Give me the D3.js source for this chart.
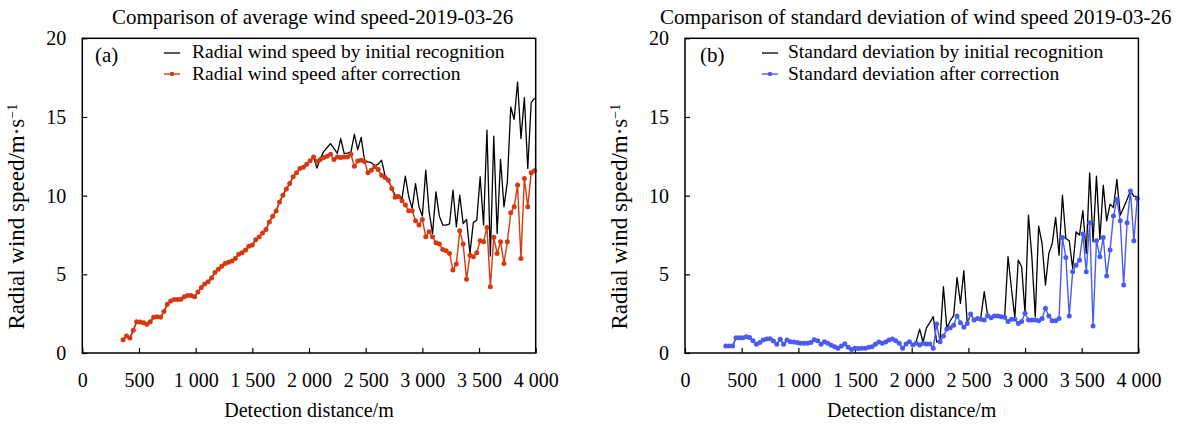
<!DOCTYPE html>
<html>
<head>
<meta charset="utf-8">
<script src="https://cdn.jsdelivr.net/npm/d3@7"></script>
<style>
  html, body { margin: 0; padding: 0; background: #fff; }
  svg { display: block; }
  text { font-family: "Liberation Serif", "Times New Roman", serif; fill: #000; }
</style>
</head>
<body>
<script>
// ---------------- data ----------------
const distance = [360,390,420,450,480,510,540,570,600,630,660,690,720,750,780,810,840,870,900,930,
  960,990,1020,1050,1080,1110,1140,1170,1200,1230,1260,1290,1320,1350,1380,1410,1440,1470,1500,1530,
  1560,1590,1620,1650,1680,1710,1740,1770,1800,1830,1860,1890,1920,1950,1980,2010,2040,2070,2100,2130,
  2160,2190,2220,2250,2280,2310,2340,2370,2400,2430,2460,2490,2520,2550,2580,2610,2640,2670,2700,2730,
  2760,2790,2820,2850,2880,2910,2940,2970,3000,3030,3060,3090,3120,3150,3180,3210,3240,3270,3300,3330,
  3360,3390,3420,3450,3480,3510,3540,3570,3600,3630,3660,3690,3720,3750,3780,3810,3840,3870,3900,3930,
  3960,3990];

const speedCorrected = [0.85,1.08,0.95,1.45,1.98,1.97,1.92,1.83,1.98,2.27,
  2.31,2.27,2.63,3.10,3.31,3.40,3.40,3.42,3.58,3.66,
  3.66,3.58,3.87,4.17,4.38,4.53,4.76,5.12,5.33,5.52,
  5.69,5.77,5.84,6.01,6.28,6.37,6.54,6.79,6.86,7.20,
  7.37,7.63,7.85,8.33,8.69,9.03,9.60,10.03,10.43,10.77,
  11.20,11.45,11.72,11.80,12.00,12.22,12.46,
  12.17,12.30,12.42,12.50,12.63,12.30,12.46,12.42,12.46,12.46,
  12.63,11.87,12.20,12.25,12.17,11.45,11.62,11.83,11.66,11.30,
  11.15,10.98,10.46,9.90,9.93,9.67,9.40,9.04,9.04,8.40,
  8.13,8.49,7.39,7.70,7.39,7.00,6.92,6.58,6.50,6.33,
  5.27,5.65,7.77,6.92,4.68,6.22,6.11,6.37,7.13,7.07,
  7.98,4.21,7.35,6.33,7.07,5.69,7.07,8.91,9.29,10.67,
  6.01,11.09,9.29,11.45,11.58];

const speedInitial = [0.85,1.08,0.95,1.45,1.98,1.97,1.92,1.83,1.98,2.27,
  2.31,2.27,2.63,3.10,3.31,3.40,3.40,3.42,3.58,3.66,
  3.66,3.58,3.87,4.17,4.38,4.53,4.76,5.12,5.33,5.52,
  5.69,5.77,5.84,6.01,6.28,6.37,6.54,6.79,6.86,7.20,
  7.37,7.63,7.85,8.33,8.69,9.03,9.60,10.03,10.43,10.77,
  11.20,11.45,11.72,11.80,12.00,12.22,12.46,
  11.75,12.36,12.80,13.06,13.31,13.00,12.68,13.63,12.68,12.70,
  12.78,13.90,12.93,13.70,12.25,12.15,12.10,11.90,12.00,12.25,
  11.30,11.00,10.50,10.03,10.03,9.80,11.24,9.93,9.19,10.77,
  9.30,8.70,11.62,8.97,7.60,10.24,8.70,8.13,8.13,8.20,
  10.35,8.02,10.03,8.23,8.49,6.33,8.30,8.44,11.20,8.13,
  14.16,6.16,13.78,7.60,12.30,9.29,10.88,15.64,14.84,17.22,
  13.63,16.23,11.73,15.89,16.20];

const sdCorrected = [0.44,0.44,0.44,0.97,0.97,0.97,1.04,0.99,0.78,0.55,
  0.66,0.83,0.89,0.91,0.76,0.55,0.87,0.55,0.83,0.72,
  0.70,0.66,0.62,0.62,0.62,0.66,0.85,0.78,0.55,0.72,
  0.62,0.49,0.40,0.30,0.44,0.59,0.36,0.23,0.30,0.28,
  0.30,0.30,0.36,0.40,0.55,0.70,0.62,0.70,0.83,0.89,
  0.78,0.62,0.30,0.57,0.72,0.51,
  0.62,0.51,0.62,0.57,0.57,0.30,
  1.84,0.72,1.08,1.52,1.61,1.76,2.35,1.93,1.63,1.88,
  2.48,2.10,2.20,2.14,2.10,2.37,2.24,2.35,2.35,2.31,
  2.27,2.00,2.14,2.14,1.88,2.00,2.52,2.10,2.10,2.10,
  2.05,2.20,2.84,2.35,2.05,2.05,2.20,7.34,6.07,2.35,
  5.16,5.58,5.90,7.56,5.16,8.27,1.71,7.13,6.12,7.34,
  4.89,6.54,8.70,9.76,8.40,4.32,8.27,10.30,7.13,9.82];

const sdInitial = [0.44,0.44,0.44,0.97,0.97,0.97,1.04,0.99,0.78,0.55,
  0.66,0.83,0.89,0.91,0.76,0.55,0.87,0.55,0.83,0.72,
  0.70,0.66,0.62,0.62,0.62,0.66,0.85,0.78,0.55,0.72,
  0.62,0.49,0.40,0.30,0.44,0.59,0.36,0.23,0.30,0.28,
  0.30,0.30,0.36,0.40,0.55,0.70,0.62,0.70,0.83,0.89,
  0.78,0.62,0.30,0.57,0.72,0.51,
  0.72,1.52,0.70,1.60,1.93,2.31,0.70,0.84,4.21,1.57,
  2.05,2.37,4.80,3.15,5.23,1.88,2.48,2.10,2.20,2.24,
  3.90,2.37,2.24,2.35,2.35,2.31,2.27,6.12,4.10,2.24,
  5.90,5.48,2.52,8.76,6.12,2.30,8.06,6.96,4.32,6.33,
  6.96,8.62,6.22,10.03,7.28,7.13,5.38,7.70,7.49,9.04,
  6.33,11.45,7.07,11.24,7.22,10.67,8.40,9.46,9.25,11.03,
  8.76,9.25,9.76,10.30,9.97,9.93];

const xTicks = [0,500,1000,1500,2000,2500,3000,3500,4000];
const xTickLabels = ["0","500","1 000","1 500","2 000","2 500","3 000","3 500","4 000"];
const yTicks = [0,5,10,15,20];

const titles = ["Comparison of average wind speed-2019-03-26",
                "Comparison of standard deviation of wind speed 2019-03-26"];
const panelTags = ["(a)", "(b)"];
const legendInitial = ["Radial wind speed by initial recognition", "Standard deviation by initial recognition"];
const legendCorrected = ["Radial wind speed after correction", "Standard deviation after correction"];
const xTitle = "Detection distance/m";
const yTitle = "Radial wind speed/m·s";

// ---------------- drawing ----------------
const W = 1186, H = 428;
const svg = d3.select("body").append("svg").attr("width", W).attr("height", H);
svg.append("rect").attr("width", W).attr("height", H).attr("fill", "#fff");

const panels = [
  { left: 82.3, init: speedInitial, corr: speedCorrected, color: "#d6390f",
    titleX: 112, tagX: 95, lineX: 164, textX: 192, yLabelX: 24 },
  { left: 685, init: sdInitial, corr: sdCorrected, color: "#4a5af5",
    titleX: 660, tagX: 700, lineX: 762, textX: 788, yLabelX: 627 }
];
const plotW = 453.4, plotTop = 38.3, plotBottom = 353;

panels.forEach((p, k) => {
  const x = d3.scaleLinear().domain([0, 4000]).range([p.left, p.left + plotW]);
  const y = d3.scaleLinear().domain([0, 20]).range([plotBottom, plotTop]);
  const g = svg.append("g");

  // axes
  const xa = g.append("g").attr("transform", `translate(0,${plotBottom})`)
    .call(d3.axisBottom(x).tickValues(xTicks).tickSizeInner(-5).tickSizeOuter(0).tickPadding(20)
      .tickFormat((d, i) => xTickLabels[i]));
  const ya = g.append("g").attr("transform", `translate(${p.left},0)`)
    .call(d3.axisLeft(y).tickValues(yTicks).tickSizeInner(-5).tickSizeOuter(0).tickPadding(16));
  [xa, ya].forEach(a => {
    a.select(".domain").remove();
    a.selectAll(".tick line").attr("stroke", "#000").attr("stroke-width", 1.2);
    a.selectAll("text").style("font-family", '"Liberation Serif", serif').style("font-size", "20px").attr("fill", "#000");
  });

  // data lines
  const line = d3.line().x((d, i) => x(distance[i])).y(d => y(d));
  g.append("path").datum(p.init).attr("d", line).attr("fill", "none")
    .attr("stroke", "#000").attr("stroke-width", 1.3).attr("stroke-linejoin", "round");
  g.append("path").datum(p.corr).attr("d", line).attr("fill", "none")
    .attr("stroke", p.color).attr("stroke-width", 1.4).attr("stroke-linejoin", "round");
  g.selectAll("circle.pt").data(p.corr).enter().append("circle")
    .attr("cx", (d, i) => x(distance[i])).attr("cy", d => y(d)).attr("r", 2.5).attr("fill", p.color);

  // frame
  g.append("rect").attr("x", p.left).attr("y", plotTop).attr("width", plotW).attr("height", plotBottom - plotTop)
    .attr("fill", "none").attr("stroke", "#000").attr("stroke-width", 1.5);

  // title
  g.append("text").attr("x", p.titleX).attr("y", 23.5)
    .style("font-size", "21px").text(titles[k]);

  // axis titles
  g.append("text").attr("x", p.left + plotW / 2).attr("y", 417)
    .attr("text-anchor", "middle").style("font-size", "20px").text(xTitle);
  const yt = g.append("text").attr("transform", `translate(${p.yLabelX},${(plotTop + plotBottom) / 2 + 21}) rotate(-90)`)
    .attr("text-anchor", "middle").style("font-size", "23px").text(yTitle);
  yt.append("tspan").attr("baseline-shift", "super").style("font-size", "14px").text("−1");

  // legend
  g.append("text").attr("x", p.tagX).attr("y", 62).style("font-size", "21px").text(panelTags[k]);
  g.append("line").attr("x1", p.lineX).attr("x2", p.lineX + 16).attr("y1", 53).attr("y2", 53)
    .attr("stroke", "#000").attr("stroke-width", 1.3);
  g.append("line").attr("x1", p.lineX).attr("x2", p.lineX + 16).attr("y1", 74).attr("y2", 74)
    .attr("stroke", p.color).attr("stroke-width", 1.4);
  g.append("circle").attr("cx", p.lineX + 8).attr("cy", 74).attr("r", 2.2).attr("fill", p.color);
  g.append("text").attr("x", p.textX).attr("y", 58).style("font-size", "19.5px").text(legendInitial[k]);
  g.append("text").attr("x", p.textX).attr("y", 80).style("font-size", "19.5px").text(legendCorrected[k]);
});
</script>
</body>
</html>
